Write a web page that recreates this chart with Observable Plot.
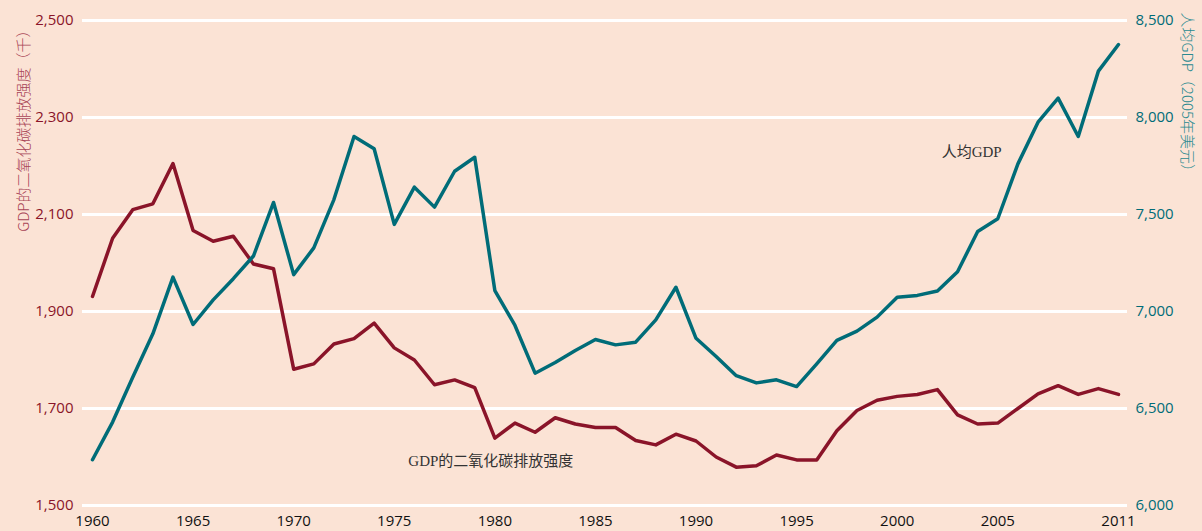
<!DOCTYPE html>
<html><head><meta charset="utf-8">
<script src="https://cdn.jsdelivr.net/npm/d3@7"></script>
<script src="https://cdn.jsdelivr.net/npm/@observablehq/plot@0.6"></script>
<style>
html,body{margin:0;padding:0;background:#fbe3d5;}
#chart svg{display:block;}
</style></head><body><div id="chart"></div>
<script>
const years = [1960,1961,1962,1963,1964,1965,1966,1967,1968,1969,
  1970,1971,1972,1973,1974,1975,1976,1977,1978,1979,
  1980,1981,1982,1983,1984,1985,1986,1987,1988,1989,
  1990,1991,1992,1993,1994,1995,1996,1997,1998,1999,
  2000,2001,2002,2003,2004,2005,2006,2007,2008,2009,2010,2011];
const co2Intensity = [1931,2051,2110,2122,2205,2067,2045,2055,1998,1988,
  1781,1792,1833,1844,1876,1825,1800,1749,1759,1743,
  1639,1670,1651,1681,1668,1661,1661,1634,1625,1647,
  1633,1600,1579,1582,1604,1594,1594,1654,1696,1717,
  1725,1729,1739,1687,1668,1670,1700,1730,1747,1729,1741,1729];
const gdpPerCapita = [6236,6430,6661,6885,7177,6933,7060,7169,7286,7562,
  7190,7328,7577,7902,7839,7449,7641,7538,7723,7795,
  7108,6928,6682,6737,6799,6856,6828,6842,6957,7125,
  6862,6768,6669,6632,6648,6613,6730,6851,6899,6971,
  7074,7083,7106,7205,7412,7478,7761,7976,8100,7902,8239,8376];
const leftTicks = [1500,1700,1900,2100,2300,2500];
const rightTicks = [6000,6500,7000,7500,8000,8500];
const xTicks = [1960,1965,1970,1975,1980,1985,1990,1995,2000,2005,2011];
const leftTitle = "GDP的二氧化碳排放强度（千）";
const rightTitle = "人均GDP（2005年美元）";
const seriesLabels = [
  {name: "人均GDP", year: 2003.7, value: 2228},
  {name: "GDP的二氧化碳排放强度", year: 1979.8, value: 1591}
];

const red = "#8a1429";
const teal = "#006c78";
const bg = "#fbe3d5";
// map right-axis values onto the left scale
const toLeft = v => 1500 + (v - 6000) * 0.4;
const fromLeft = d => 6000 + (d - 1500) * 2.5;
const fmt = d3.format(",");

const data = years.map((year, i) => ({year, co2: co2Intensity[i], gdp: toLeft(gdpPerCapita[i])}));

const chart = Plot.plot({
  width: 1202, height: 531,
  marginLeft: 82, marginRight: 75, marginTop: 20, marginBottom: 26,
  style: {background: bg, fontFamily: "'Open Sans', 'Noto Sans', sans-serif", fontSize: "15px", overflow: "visible"},
  x: {domain: [1960, 2011], insetLeft: 10, insetRight: 9},
  y: {domain: [1500, 2500]},
  marks: [
    Plot.ruleY(leftTicks, {stroke: "white", strokeWidth: 3}),
    Plot.axisY({ticks: leftTicks, tickSize: 0, tickPadding: 9, tickFormat: fmt, fill: red, label: null}),
    Plot.axisY({anchor: "right", ticks: rightTicks.map(toLeft), tickSize: 0, tickPadding: 8,
      tickFormat: d => fmt(Math.round(fromLeft(d))), fill: teal, label: null}),
    Plot.axisX({ticks: xTicks, tickSize: 0, tickPadding: 10, tickFormat: d => String(d), fill: "#111", label: null}),
    Plot.lineY(data, {x: "year", y: "co2", stroke: red, strokeWidth: 3.5}),
    Plot.lineY(data, {x: "year", y: "gdp", stroke: teal, strokeWidth: 3.5}),
    Plot.text(seriesLabels, {x: "year", y: "value", text: "name", fill: "#333",
      fontFamily: "'Liberation Serif', 'DejaVu Serif', 'Noto Sans CJK SC', serif", fontSize: 15}),
    Plot.text([leftTitle], {frameAnchor: "top-left", dx: -64, dy: 2, rotate: -90, textAnchor: "end",
      fill: "#a84456", fontSize: 15, fontWeight: 300, fontFamily: "'Noto Sans CJK SC', sans-serif"}),
    Plot.text([rightTitle], {frameAnchor: "top-right", dx: 65, dy: -8, rotate: 90, textAnchor: "start",
      fill: "#2a8a90", fontSize: 15, fontWeight: 300, fontFamily: "'Noto Sans CJK SC', sans-serif"})
  ]
});
document.getElementById("chart").appendChild(chart);
</script></body></html>
